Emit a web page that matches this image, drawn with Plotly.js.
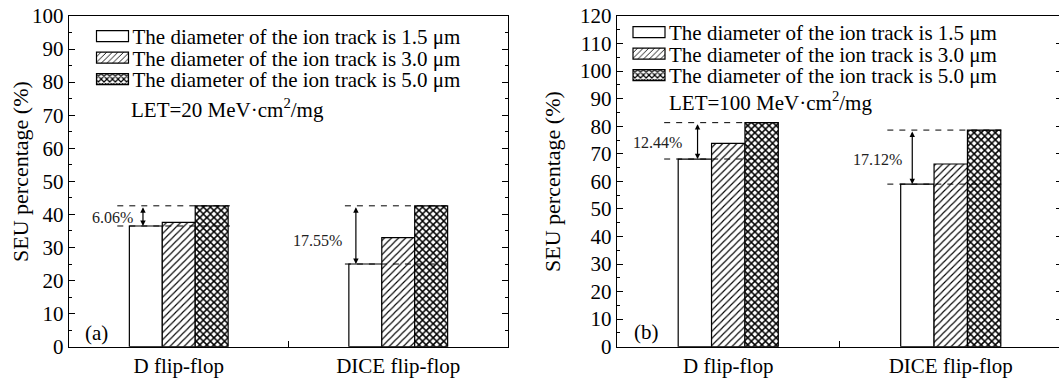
<!DOCTYPE html>
<html><head><meta charset="utf-8">
<script src="https://cdn.plot.ly/plotly-3.0.1.min.js"></script>
<style>html,body{margin:0;padding:0;overflow:hidden;background:#fff}#chart{width:1070px;height:378px}</style>
</head><body><div id="chart"></div>
<script>
// ---- data ----
const categories = ["D flip-flop", "DICE flip-flop"];
const seriesNames = [
  "The diameter of the ion track is 1.5 μm",
  "The diameter of the ion track is 3.0 μm",
  "The diameter of the ion track is 5.0 μm"
];
const let20_track15 = [36.5, 25.0];
const let20_track30 = [37.6, 33.0];
const let20_track50 = [42.6, 42.6];
const let100_track15 = [68.1, 59.0];
const let100_track30 = [73.8, 66.3];
const let100_track50 = [81.3, 78.6];
const diffLabels20 = ["6.06%", "17.55%"];
const diffLabels100 = ["12.44%", "17.12%"];
const panelLabels = ["(a)", "(b)"];
const letLabels = ["LET=20 MeV·cm<sup>2</sup>/mg", "LET=100 MeV·cm<sup>2</sup>/mg"];
const yTitle = "SEU percentage (%)";
const yMax = [100, 120];

// ---- styling ----
const W = 1070, H = 378;
const FONT = "Liberation Serif, Times New Roman, serif";
const patterns = [
  {shape: "", fgcolor: "#000", bgcolor: "#fff"},
  {shape: "/", fgcolor: "#000", bgcolor: "#fff", size: 5, solidity: 0.22},
  {shape: "x", fgcolor: "#000", bgcolor: "#fff", size: 5, solidity: 0.5}
];
const panels = [
  {xa: "x", ya: "y", leg: "legend", series: [let20_track15, let20_track30, let20_track50], diff: diffLabels20,
   dash0: [-0.28, -0.243], dash1: [0.233, 0.227], arrow: [-0.163, -0.193], lab: [-0.30, -0.368], labShift: [-2, -6]},
  {xa: "x2", ya: "y2", leg: "legend2", series: [let100_track15, let100_track30, let100_track50], diff: diffLabels100,
   dash0: [-0.288, -0.285], dash1: [0.225, 0.227], arrow: [-0.138, -0.173], lab: [-0.317, -0.331], labShift: [-2, -2]}
];

const traces = [];
const shapes = [];
const annotations = [];
panels.forEach((p, pi) => {
  p.series.forEach((vals, si) => {
    traces.push({
      type: "bar", x: categories, y: vals, name: seriesNames[si],
      xaxis: p.xa, yaxis: p.ya, legend: p.leg,
      marker: {color: "#fff", line: {color: "#000", width: 1.2}, pattern: patterns[si]},
      hoverinfo: "skip"
    });
  });
  const bottom = p.series[0], top = p.series[2];
  categories.forEach((c, i) => {
    [top[i], bottom[i]].forEach(v => {
      shapes.push({type: "line", xref: p.xa, yref: p.ya, x0: i + p.dash0[i], x1: i + p.dash1[i], y0: v, y1: v,
        line: {color: "#000", width: 1, dash: "6px,6px"}, layer: "above"});
    });
    annotations.push({xref: p.xa, yref: p.ya, axref: p.xa, ayref: p.ya,
      x: i + p.arrow[i], y: bottom[i], ax: i + p.arrow[i], ay: top[i], text: "",
      showarrow: true, arrowside: "end+start", arrowhead: 2, startarrowhead: 2, arrowsize: 0.9, startarrowsize: 0.9,
      arrowwidth: 1.2, arrowcolor: "#000"});
    annotations.push({xref: p.xa, yref: p.ya, x: i + p.lab[i], y: (top[i] + bottom[i]) / 2, yshift: p.labShift[i],
      text: p.diff[i], showarrow: false, font: {family: FONT, size: 16, color: "#222"}});
  });
});

const txt = (x, y, text, size, extra) => Object.assign({xref: "paper", yref: "paper", x: x / W, y: 1 - y / H,
  xanchor: "left", yanchor: "middle", text: text, showarrow: false,
  font: {family: FONT, size: size, color: "#000"}}, extra || {});
annotations.push(txt(83, 333, panelLabels[0], 21));
annotations.push(txt(632, 332, panelLabels[1], 21));
annotations.push(txt(129, 108, letLabels[0], 21));
annotations.push(txt(667, 102, letLabels[1], 21));
annotations.push(txt(20, 172, yTitle, 22, {xanchor: "center", textangle: -90}));
annotations.push(txt(553, 182, yTitle, 22, {xanchor: "center", textangle: -90}));

function yaxis(range, anchor) {
  return {
    anchor: anchor, range: range, domain: [1 - 346.7 / H, 1 - 16 / H], dtick: 10, ticks: "inside", ticklen: 6, tickwidth: 1,
    tickcolor: "#000", showline: true, linecolor: "#000", linewidth: 1.2, mirror: "ticks", showgrid: false,
    zeroline: false, fixedrange: true,
    minor: {dtick: 5, ticks: "inside", ticklen: 3, tickcolor: "#000", showgrid: false},
    tickfont: {family: FONT, size: 21, color: "#000"}
  };
}
function xaxis(dom, anchor) {
  return {domain: dom, anchor: anchor, type: "category", range: [-0.5, 1.5], tickson: "boundaries",
    ticks: "inside", ticklen: 6, tickcolor: "#000", showline: true, linecolor: "#000", linewidth: 1.2,
    mirror: true, showgrid: false, zeroline: false, fixedrange: true,
    tickfont: {family: FONT, size: 21, color: "#000"}};
}

const legendBase = {xanchor: "left", yanchor: "top", bgcolor: "rgba(0,0,0,0)", borderwidth: 0,
  font: {family: FONT, size: 21, color: "#000"}, itemwidth: 30, tracegroupgap: 0};

const layout = {
  width: W, height: H, margin: {l: 0, r: 0, t: 0, b: 0},
  paper_bgcolor: "#fff", plot_bgcolor: "#fff",
  barmode: "group", bargap: 0.55, bargroupgap: 0,
  xaxis: xaxis([69 / W, 508 / W], "y"),
  yaxis: yaxis([0, yMax[0]], "x"),
  xaxis2: xaxis([617 / W, 1062 / W], "y2"),
  yaxis2: yaxis([0, yMax[1]], "x2"),
  legend: Object.assign({x: 92.5 / W, y: 1 - 16 / H}, legendBase),
  legend2: Object.assign({x: 629 / W, y: 1 - 12 / H}, legendBase),
  shapes: shapes, annotations: annotations, showlegend: true
};

const ROW = 21.5;
Plotly.newPlot("chart", traces, layout, {staticPlot: true}).then(gd => {
  ["legend", "legend2"].forEach(cls => {
    const lg = gd.querySelector("g." + cls);
    if (!lg) return;
    const items = Array.from(lg.querySelectorAll("g.traces"));
    let y0 = null;
    items.forEach((it, k) => {
      const m = /translate\(\s*([-\d.]+)[ ,]+([-\d.]+)/.exec(it.getAttribute("transform") || "");
      const x = m ? parseFloat(m[1]) : 0;
      if (y0 === null) y0 = m ? parseFloat(m[2]) : 0;
      it.setAttribute("transform", "translate(" + x + "," + (y0 + k * ROW) + ")");
      it.querySelectorAll(".legendpoints path").forEach(p => p.setAttribute("d", "M-16,-5.5H16V5.5H-16Z"));
    });
  });
});
</script>
</body></html>
